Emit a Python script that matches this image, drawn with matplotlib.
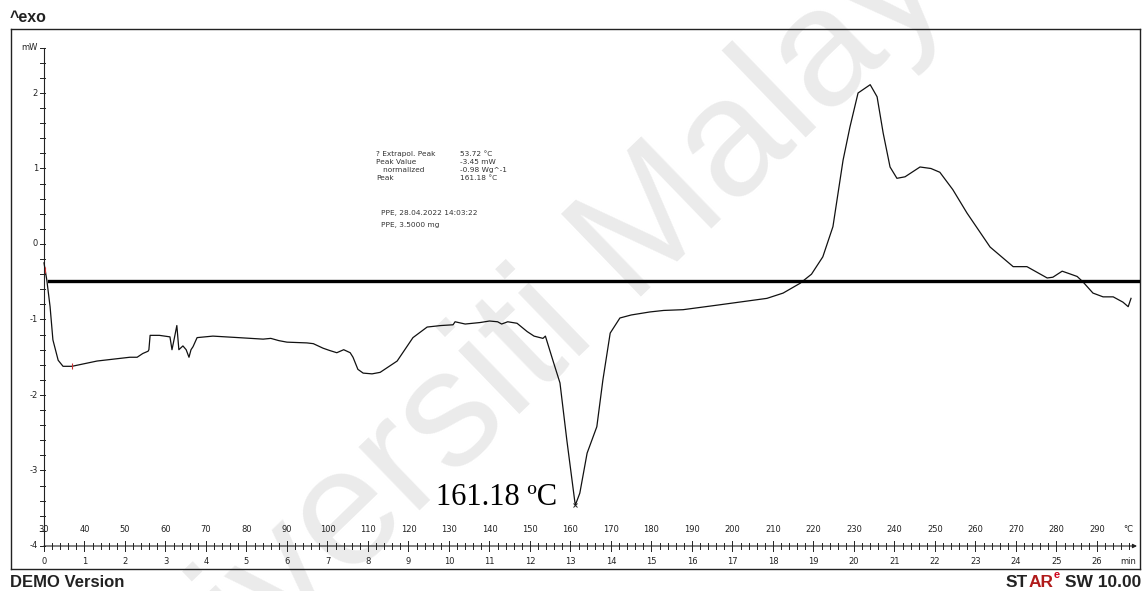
import matplotlib.pyplot as plt
import numpy as np

# DSC curve (temperature in degC, heat flow in mW)
temp_c = [30.0, 30.7, 31.5, 32.2, 33.5, 34.7, 36.9, 43.1, 51.2, 53.0, 54.4, 55.7,
          55.9, 56.2, 58.5, 61.1, 61.6, 62.1, 62.8, 63.3, 64.3, 65.1, 65.8, 66.3,
          66.8, 67.8, 71.7, 78.0, 84.1, 86.0, 88.0, 90.0, 94.9, 96.5, 98.9, 100.5,
          102.3, 104.0, 105.6, 106.3, 107.5, 108.8, 111.0, 113.0, 117.2, 121.1,
          124.6, 128.0, 131.0, 131.5, 134.0, 137.7, 140.0, 142.0, 143.0, 144.5,
          146.8, 149.3, 151.0, 153.2, 153.8, 155.7, 157.4, 159.1, 161.18, 162.3,
          164.1, 166.5, 168.0, 169.8, 172.2, 175.0, 179.6, 183.0, 187.8, 196.2,
          208.5, 212.5, 216.7, 219.5, 222.3, 224.8, 227.3, 229.0, 231.0, 234.0,
          235.7, 237.2, 238.9, 240.6, 242.6, 246.3, 249.0, 251.2, 254.4, 257.9,
          263.6, 269.3, 272.7, 277.7, 279.1, 281.4, 283.0, 285.1, 286.5, 289.0,
          291.5, 294.0, 296.4, 297.7, 298.4]
heat_flow_mw = [-0.25, -0.48, -0.83, -1.27, -1.54, -1.62, -1.62, -1.55, -1.50, -1.50, -1.45, -1.42,
                -1.40, -1.21, -1.21, -1.23, -1.40, -1.27, -1.08, -1.40, -1.35, -1.40, -1.50, -1.40,
                -1.36, -1.24, -1.22, -1.24, -1.26, -1.25, -1.28, -1.30, -1.31, -1.32, -1.38, -1.41,
                -1.44, -1.40, -1.44, -1.50, -1.66, -1.71, -1.72, -1.70, -1.55, -1.24,
                -1.10, -1.08, -1.07, -1.03, -1.06, -1.04, -1.02, -1.03, -1.06, -1.03,
                -1.05, -1.16, -1.22, -1.25, -1.22, -1.55, -1.84, -2.60, -3.46, -3.30,
                -2.77, -2.42, -1.80, -1.18, -0.98, -0.94, -0.90, -0.88, -0.87, -0.81,
                -0.72, -0.65, -0.52, -0.40, -0.17, 0.23, 1.11, 1.55, 2.00, 2.11,
                1.95, 1.47, 1.02, 0.87, 0.89, 1.02, 1.00, 0.95, 0.72, 0.41,
                -0.04, -0.30, -0.30, -0.45, -0.44, -0.36, -0.39, -0.43, -0.50, -0.65,
                -0.70, -0.70, -0.77, -0.83, -0.72]

baseline_mw = -0.49
peak_temp = 161.18
peak_mw = -3.46
limit_temps = [30.2, 36.9]
limit_mw = [-0.35, -1.62]

temp_ticks = list(range(30, 300, 10))
time_ticks = list(range(0, 27))
y_ticks = [-4, -3, -2, -1, 0, 1, 2]
y_top = 2.6

result_rows = [("? Extrapol. Peak", "53.72 °C"),
               ("Peak Value", "-3.45 mW"),
               ("   normalized", "-0.98 Wg^-1"),
               ("Peak", "161.18 °C")]
sample_rows = ["PPE, 28.04.2022 14:03:22", "PPE, 3.5000 mg"]

# -- layout (pixels of the 1147x591 picture) ----------------------------------
W, H = 1147, 591
PX_T = 4.05    # px per degC
PX_MW = 75.5   # px per mW


def fx(px):
    return px / W


def fy(py):
    return 1 - py / H


fig = plt.figure(figsize=(W / 100, H / 100), dpi=100)
fig.patch.set_facecolor("white")

left, right, top, bottom = 11, 1140, 29, 569
ax = fig.add_axes([fx(left), fy(bottom), (right - left) / W, (bottom - top) / H])
ax.patch.set_visible(False)
ax.set_xlim(30 + (left - 44) / PX_T, 30 + (right - 44) / PX_T)
ax.set_ylim((244 - bottom) / PX_MW, (244 - top) / PX_MW)
ax.set_xticks([])
ax.set_yticks([])
for sp in ax.spines.values():
    sp.set_linewidth(1.0)
    sp.set_color("#222222")

# watermark
fig.text(fx(532), fy(342), "Universiti Malaya", rotation=44, fontsize=120,
         color="#ebebeb", ha="center", va="center", family="Liberation Sans",
         zorder=-5)

dx = 1 / PX_T
dy = 1 / PX_MW
tick_font = dict(fontsize=6, family="DejaVu Sans", color="#222222")

# y axis
ax.plot([30, 30], [-4, y_top], color="#222222", lw=0.8)
for v in np.arange(-4, y_top + 0.01, 0.2):
    ax.plot([30 - 4 * dx, 30 + 1 * dx], [v, v], color="#222222", lw=0.7)
for v in y_ticks:
    ax.text(30 - 6 * dx, v, f"{v}", ha="right", va="center", **tick_font)
ax.text(30 - 6 * dx, y_top, "mW", ha="right", va="center", **tick_font)

# x axis with temperature above and time below
ax.annotate("", xy=(30 + 1093 / PX_T, -4), xytext=(30, -4),
            arrowprops=dict(arrowstyle="-|>", lw=0.8, color="#222222",
                            mutation_scale=6, shrinkA=0, shrinkB=0))
for t in range(30, 300, 2):
    h = 5 * dy if t % 10 == 0 else 3 * dy
    ax.plot([t, t], [-4 - h, -4 + h], color="#222222", lw=0.7)
for t in temp_ticks:
    ax.text(t, -4 + 16 * dy, f"{t}", ha="center", va="center", **tick_font)
for m in time_ticks:
    ax.text(30 + 10 * m, -4 - 15 * dy, f"{m}", ha="center", va="center", **tick_font)
ax.text(30 + 1084 / PX_T, -4 + 16 * dy, "°C", ha="center", va="center", **tick_font)
ax.text(30 + 1084 / PX_T, -4 - 15 * dy, "min", ha="center", va="center", **tick_font)

# curve, baseline and markers
ax.plot(temp_c, heat_flow_mw, color="#111111", lw=0.9, zorder=3)
ax.plot([30 + 5 * dx, ax.get_xlim()[1]], [baseline_mw, baseline_mw],
        color="black", lw=2.4, zorder=4)
ax.plot(limit_temps, limit_mw, ls="none", marker="|", ms=5, color="#cc3333", mew=0.8, zorder=5)
ax.plot([peak_temp], [peak_mw], ls="none", marker="x", ms=3, color="#222222", mew=0.7, zorder=5)
ax.text(peak_temp - 4.5, peak_mw, f"{peak_temp:.2f} ºC", ha="right", va="baseline",
        fontsize=22, family="Liberation Serif", color="black", zorder=6)

# evaluation results block
info_font = dict(fontsize=5.3, family="DejaVu Sans", color="#333333", va="center")
for i, (name, val) in enumerate(result_rows):
    fig.text(fx(376), fy(154 + 8 * i), name, ha="left", **info_font)
    fig.text(fx(460), fy(154 + 8 * i), val, ha="left", **info_font)
for i, line in enumerate(sample_rows):
    fig.text(fx(381), fy(213 + 12 * i), line, ha="left", **info_font)

# header / footer
bold = dict(family="Liberation Sans", fontweight="bold", va="baseline")
fig.text(fx(10), fy(22), "^exo", fontsize=11.5, color="#222222", ha="left", **bold)
fig.text(fx(10), fy(587), "DEMO Version", fontsize=12, color="#222222", ha="left", **bold)

r = fig.canvas.get_renderer()
t_sw = fig.text(fx(1141), fy(587), "SW 10.00", fontsize=12.5, color="#222222", ha="right", **bold)
x0 = t_sw.get_window_extent(r).x0
t_e = fig.text((x0 - 5) / W, fy(587) + 7 / H, "e", fontsize=8, color="#d0021b", ha="right",
               va="bottom", family="Liberation Sans", fontweight="bold")
x0 = t_e.get_window_extent(r).x0
t_ar = fig.text((x0 - 0.5) / W, fy(587), "AR", fontsize=12.5, color="#b01a1a", ha="right", **bold)
x0 = t_ar.get_window_extent(r).x0
fig.text(x0 / W, fy(587), "ST", fontsize=12.5, color="#222222", ha="right", **bold)

fig.savefig("out.png", dpi=100)
